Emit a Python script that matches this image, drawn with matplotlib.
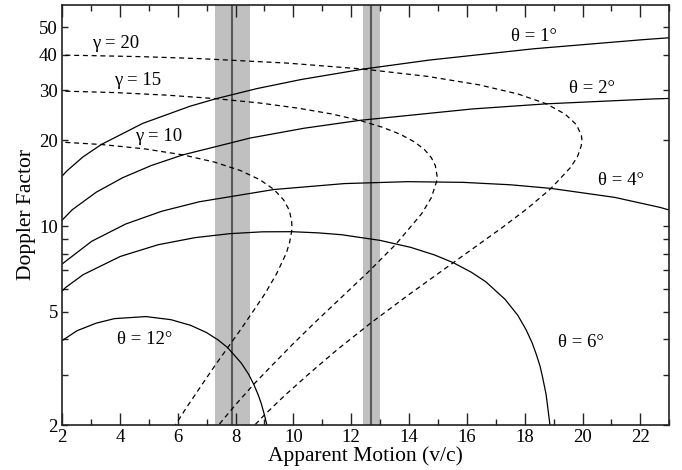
import matplotlib
matplotlib.use('Agg')
import matplotlib.pyplot as plt
from matplotlib.ticker import FixedLocator, NullFormatter

plt.rcParams['font.family'] = ['Liberation Serif', 'DejaVu Serif']

# solid curves: fixed viewing angle (apparent motion, Doppler factor)
th1_x = [1.66, 2.17, 2.73, 3.36, 4.79, 6.43, 7.33, 8.75, 10.27, 12.42, 14.70, 18.31, 22.07, 23.36]
th1_y = [13.73, 15.64, 17.52, 19.36, 22.96, 26.39, 28.05, 30.45, 32.75, 35.64, 38.33, 42.0, 45.2, 46.2]

th2_x = [1.64, 2.36, 3.18, 4.10, 5.10, 6.18, 8.51, 10.37, 12.29, 16.19, 18.75, 22.44, 23.62]
th2_y = [9.62, 11.43, 13.15, 14.80, 16.35, 17.80, 20.40, 22.08, 23.53, 25.81, 26.90, 27.99, 28.23]

th4_x = [1.11, 1.98, 3.03, 4.20, 5.45, 6.75, 9.33, 11.77, 13.96, 15.87, 17.52, 18.91, 21.11, 22.69, 23.31]
th4_y = [5.60, 7.33, 8.85, 10.17, 11.28, 12.18, 13.45, 14.11, 14.33, 14.25, 13.97, 13.57, 12.62, 11.63, 11.15]

th6_x = [1.58, 2.13, 2.73, 4.01, 5.32, 6.60, 7.81, 8.93, 9.94, 10.85, 11.66, 13.00, 14.06, 14.88,
         15.53, 16.16, 16.65, 17.32, 17.76, 18.05, 18.26, 18.41, 18.53, 18.61, 18.74, 18.81, 18.87, 18.91]
th6_y = [5.35, 6.09, 6.75, 7.82, 8.60, 9.11, 9.41, 9.55, 9.56, 9.47, 9.33, 8.91, 8.42, 7.92,
         7.44, 6.88, 6.38, 5.53, 4.86, 4.32, 3.88, 3.52, 3.22, 2.97, 2.56, 2.25, 2.01, 1.81]

th12_x = [1.18, 1.84, 2.52, 3.18, 3.81, 4.90, 5.77, 6.45, 6.99, 7.40, 7.73, 8.20, 8.45, 8.63,
          8.78, 8.89, 9.00, 9.09]
th12_y = [3.27, 3.86, 4.29, 4.56, 4.73, 4.81, 4.69, 4.48, 4.23, 3.98, 3.74, 3.30, 3.02, 2.78,
          2.56, 2.38, 2.17, 1.99]

# dashed curves: fixed Lorentz factor
g20_x = [0.0, 2.09, 2.77, 4.81, 6.76, 9.78, 12.42, 14.64, 16.41, 17.77, 18.75, 19.40, 19.79, 19.96,
         19.98, 19.95, 19.82, 19.58, 18.91, 18.10, 17.23, 15.53, 14.00, 12.67, 11.53, 10.56, 9.72,
         9.00, 8.37]
g20_y = [39.97, 39.87, 39.78, 39.39, 38.79, 37.41, 35.64, 33.59, 31.39, 29.13, 26.90, 24.74, 22.71, 20.83,
         20.0, 19.09, 17.50, 16.06, 13.57, 11.55, 9.90, 7.44, 5.75, 4.56, 3.69, 3.04, 2.55,
         2.17, 1.86]

g15_x = [0.0, 1.95, 3.85, 5.65, 7.33, 8.84, 10.17, 11.33, 12.29, 13.08, 13.71, 14.19, 14.54, 14.77,
         14.91, 14.97, 14.95, 14.77, 14.44, 13.56, 12.59, 11.63, 10.76, 9.97, 9.26, 8.63, 8.07,
         7.57, 7.35]
g15_y = [29.96, 29.84, 29.46, 28.85, 28.05, 27.08, 25.97, 24.78, 23.53, 22.26, 21.0, 19.76, 18.56, 17.41,
         16.32, 15.0, 14.32, 12.58, 11.07, 8.67, 6.90, 5.58, 4.60, 3.84, 3.24, 2.78, 2.40,
         2.09, 1.96]

g10_x = [0.0, 1.72, 3.36, 4.87, 6.18, 7.28, 8.17, 8.84, 9.33, 9.66, 9.86, 9.94, 9.95, 9.94, 9.87,
         9.76, 9.42, 9.02, 8.58, 8.15, 7.73, 7.33, 6.96, 6.62, 6.30, 6.00, 5.73]
g10_y = [19.95, 19.80, 19.36, 18.68, 17.80, 16.78, 15.68, 14.56, 13.45, 12.38, 11.37, 10.42, 10.0, 9.56, 8.77,
         8.05, 6.80, 5.79, 4.97, 4.29, 3.74, 3.28, 2.89, 2.57, 2.30, 2.06, 1.86]

# measured apparent speeds with ranges
meas = [7.89, 12.69]
meas_lo = [7.28, 12.40]
meas_hi = [8.49, 13.01]

fig = plt.figure(figsize=(6.82, 4.70), dpi=100)
ax = fig.add_axes([0.0909, 0.0957, 0.8905, 0.8943])

for lo, hi, m in zip(meas_lo, meas_hi, meas):
    ax.axvspan(lo, hi, color='#c0c0c0', lw=0, zorder=0)
    ax.axvline(m, color='#5a5a5a', lw=1.5, zorder=1)

for xs, ys in [(th1_x, th1_y), (th2_x, th2_y), (th4_x, th4_y), (th6_x, th6_y), (th12_x, th12_y)]:
    ax.plot(xs, ys, color='black', lw=0.9, ls='-', zorder=2)
for xs, ys in [(g20_x, g20_y), (g15_x, g15_y), (g10_x, g10_y)]:
    ax.plot(xs, ys, color='black', lw=0.9, ls=(0, (4, 3)), zorder=2)

fs = 13.5
ax.text(3.86, 43.9, 'γ = 20', fontsize=fs, ha='center', va='center')
ax.text(4.62, 32.5, 'γ = 15', fontsize=fs, ha='center', va='center')
ax.text(5.35, 20.7, 'γ = 10', fontsize=fs, ha='center', va='center')
ax.text(18.32, 46.4, 'θ = 1°', fontsize=fs, ha='center', va='center')
ax.text(20.32, 30.5, 'θ = 2°', fontsize=fs, ha='center', va='center')
ax.text(21.32, 14.5, 'θ = 4°', fontsize=fs, ha='center', va='center')
ax.text(4.86, 3.98, 'θ = 12°', fontsize=fs, ha='center', va='center')
ax.text(19.94, 3.89, 'θ = 6°', fontsize=fs, ha='center', va='center')

ax.set_yscale('log')
ax.set_xlim(2, 23)
ax.set_ylim(2, 60)

ax.xaxis.set_major_locator(FixedLocator([2, 4, 6, 8, 10, 12, 14, 16, 18, 20, 22]))
ax.xaxis.set_minor_locator(FixedLocator([3, 5, 7, 9, 11, 13, 15, 17, 19, 21, 23]))
ax.yaxis.set_major_locator(FixedLocator([2, 5, 10, 20, 30, 40, 50]))
ax.yaxis.set_minor_locator(FixedLocator([3, 4, 6, 7, 8, 9]))
ax.set_yticklabels(['2', '5', '10', '20', '30', '40', '50'])
ax.yaxis.set_minor_formatter(NullFormatter())

ax.tick_params(which='both', direction='in', top=True, right=True, labelsize=13.5, color='#222222', width=1)
ax.tick_params(axis='x', which='major', length=8.5, pad=3)
ax.tick_params(axis='x', which='minor', length=4.5)
ax.tick_params(axis='y', which='both', length=4.5, pad=3)
for s in ax.spines.values():
    s.set_linewidth(1.2)
    s.set_color('#222222')

ax.set_xlabel('Apparent Motion (v/c)', fontsize=15.5, labelpad=0)
ax.set_ylabel('Doppler Factor', fontsize=15.5, labelpad=2)

fig.savefig('out.png', dpi=100)
